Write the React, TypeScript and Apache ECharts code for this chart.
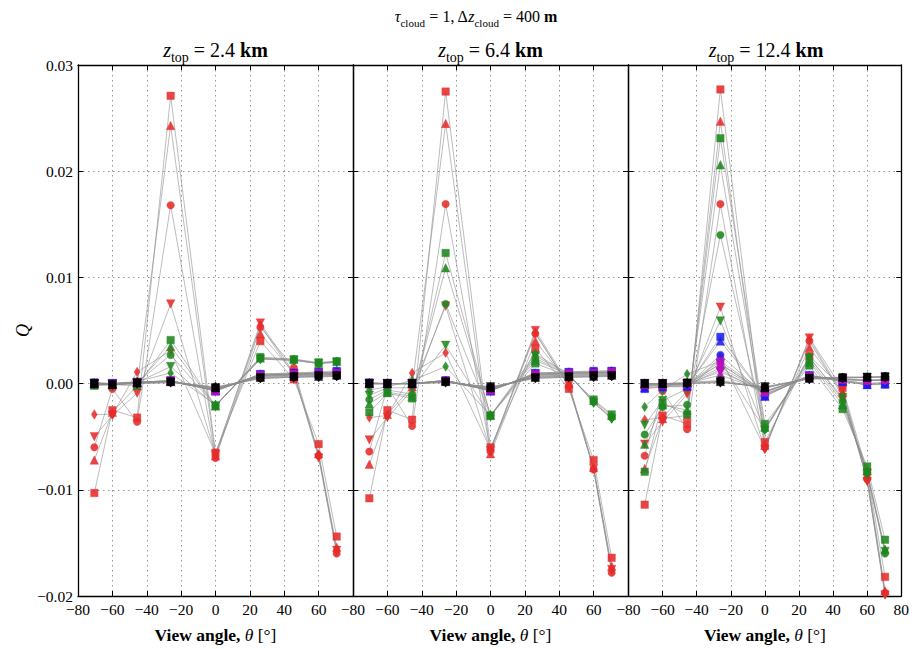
import React, { useEffect, useRef } from 'react';
import * as echarts from 'echarts';

// MISR-like view angles (degrees)
const ANGLES = [-70.5, -60, -45.6, -26.1, 0, 26.1, 45.6, 60, 70.5];
const PANEL_TITLES = ['2.4', '6.4', '12.4'];
const X_TICKS = { min: -80, max: 80, interval: 20 };
const Y_TICKS = { min: -0.02, max: 0.03, interval: 0.01 };

// rows: square, triangle-up, circle, triangle-down, diamond
// ---- z_top = 2.4 km ----
const Q24_RED = [
  [-0.0103, -0.0025, -0.0032, 0.0271, -0.0065, 0.0040, 0.0004, -0.0057, -0.0144],
  [-0.0072, -0.0027, -0.0002, 0.0243, -0.0068, 0.0047, 0.0010, -0.0066, -0.0154],
  [-0.0060, -0.0005, -0.0036, 0.0168, -0.0070, 0.0053, 0.0015, -0.0068, -0.0160],
  [-0.0050, -0.0030, -0.0009, 0.0075, -0.0067, 0.0057, 0.0010, -0.0070, -0.0157],
  [-0.0029, -0.0029, 0.0011, 0.0031, -0.0066, 0.0055, 0.0008, -0.0067, -0.0158],
];
const Q24_GREEN = [
  [-0.0002, -0.0001, -0.0002, 0.0041, -0.0021, 0.0025, 0.0023, 0.0020, 0.0021],
  [-0.0001, -0.0001, 0.0000, 0.0035, -0.0021, 0.0024, 0.0023, 0.0019, 0.0021],
  [-0.0001, -0.0001, 0.0001, 0.0027, -0.0021, 0.0024, 0.0022, 0.0019, 0.0021],
  [0.0000, 0.0000, 0.0001, 0.0016, -0.0021, 0.0023, 0.0022, 0.0019, 0.0020],
  [0.0000, 0.0000, 0.0002, 0.0010, -0.0020, 0.0023, 0.0022, 0.0019, 0.0020],
];
const Q24_BLUE = [
  [0.0001, 0.0000, 0.0001, 0.0003, -0.0007, 0.0009, 0.0010, 0.0011, 0.0012],
  [0.0001, 0.0000, 0.0001, 0.0003, -0.0007, 0.0009, 0.0010, 0.0010, 0.0011],
  [0.0000, 0.0000, 0.0001, 0.0002, -0.0006, 0.0008, 0.0009, 0.0010, 0.0011],
  [0.0000, 0.0000, 0.0001, 0.0002, -0.0006, 0.0008, 0.0009, 0.0010, 0.0010],
  [0.0000, -0.0001, 0.0001, 0.0002, -0.0006, 0.0008, 0.0009, 0.0009, 0.0010],
];
const Q24_MAGENTA = [
  [0.0000, 0.0000, 0.0001, 0.0003, -0.0007, 0.0008, 0.0009, 0.0010, 0.0010],
  [0.0000, 0.0000, 0.0001, 0.0002, -0.0006, 0.0008, 0.0009, 0.0009, 0.0010],
  [0.0000, 0.0000, 0.0001, 0.0002, -0.0006, 0.0007, 0.0008, 0.0009, 0.0009],
  [0.0000, -0.0001, 0.0001, 0.0002, -0.0005, 0.0007, 0.0008, 0.0008, 0.0009],
  [0.0000, -0.0001, 0.0001, 0.0002, -0.0005, 0.0007, 0.0008, 0.0008, 0.0009],
];
const Q24_BLACK = [
  [0.0000, -0.0001, 0.0001, 0.0002, -0.0004, 0.0006, 0.0007, 0.0008, 0.0008],
  [0.0000, -0.0001, 0.0001, 0.0002, -0.0004, 0.0006, 0.0007, 0.0007, 0.0008],
  [0.0000, -0.0001, 0.0001, 0.0002, -0.0004, 0.0005, 0.0006, 0.0007, 0.0007],
  [0.0000, -0.0001, 0.0000, 0.0001, -0.0004, 0.0005, 0.0006, 0.0007, 0.0007],
  [0.0000, -0.0001, 0.0000, 0.0001, -0.0003, 0.0005, 0.0006, 0.0006, 0.0007],
];

// ---- z_top = 6.4 km ----
const Q64_RED = [
  [-0.0108, -0.0025, -0.0034, 0.0275, -0.0060, 0.0033, -0.0005, -0.0072, -0.0164],
  [-0.0076, -0.0029, -0.0003, 0.0245, -0.0066, 0.0040, 0.0000, -0.0079, -0.0172],
  [-0.0064, -0.0003, -0.0040, 0.0169, -0.0064, 0.0047, -0.0002, -0.0081, -0.0178],
  [-0.0053, -0.0032, -0.0006, 0.0073, -0.0063, 0.0050, -0.0001, -0.0080, -0.0175],
  [-0.0032, -0.0030, 0.0010, 0.0029, -0.0062, 0.0048, -0.0003, -0.0080, -0.0176],
];
const Q64_GREEN = [
  [-0.0027, -0.0009, -0.0014, 0.0123, -0.0030, 0.0019, 0.0007, -0.0015, -0.0029],
  [-0.0019, -0.0008, -0.0012, 0.0109, -0.0030, 0.0022, 0.0008, -0.0016, -0.0030],
  [-0.0015, -0.0006, -0.0010, 0.0075, -0.0030, 0.0024, 0.0008, -0.0017, -0.0032],
  [-0.0011, -0.0004, -0.0004, 0.0036, -0.0031, 0.0026, 0.0009, -0.0018, -0.0033],
  [-0.0006, -0.0003, 0.0003, 0.0016, -0.0030, 0.0028, 0.0009, -0.0018, -0.0033],
];
const Q64_BLUE = [
  [0.0001, 0.0000, 0.0000, 0.0003, -0.0007, 0.0010, 0.0011, 0.0012, 0.0012],
  [0.0001, 0.0000, 0.0000, 0.0003, -0.0007, 0.0010, 0.0011, 0.0011, 0.0012],
  [0.0000, 0.0000, 0.0000, 0.0003, -0.0006, 0.0009, 0.0010, 0.0011, 0.0011],
  [0.0000, 0.0000, 0.0000, 0.0002, -0.0006, 0.0009, 0.0010, 0.0010, 0.0011],
  [0.0000, 0.0000, 0.0000, 0.0002, -0.0006, 0.0008, 0.0010, 0.0010, 0.0010],
];
const Q64_MAGENTA = [
  [0.0000, 0.0000, 0.0000, 0.0003, -0.0006, 0.0009, 0.0010, 0.0010, 0.0011],
  [0.0000, 0.0000, 0.0000, 0.0003, -0.0006, 0.0008, 0.0009, 0.0010, 0.0010],
  [0.0000, 0.0000, 0.0000, 0.0002, -0.0006, 0.0008, 0.0009, 0.0009, 0.0010],
  [0.0000, 0.0000, 0.0000, 0.0002, -0.0005, 0.0007, 0.0008, 0.0009, 0.0009],
  [0.0000, 0.0000, 0.0000, 0.0002, -0.0005, 0.0007, 0.0008, 0.0008, 0.0009],
];
const Q64_BLACK = [
  [0.0000, 0.0000, 0.0000, 0.0002, -0.0004, 0.0006, 0.0007, 0.0008, 0.0008],
  [0.0000, 0.0000, 0.0000, 0.0002, -0.0004, 0.0006, 0.0007, 0.0007, 0.0008],
  [0.0000, 0.0000, 0.0000, 0.0002, -0.0004, 0.0006, 0.0006, 0.0007, 0.0007],
  [0.0000, 0.0000, 0.0000, 0.0001, -0.0003, 0.0005, 0.0006, 0.0007, 0.0007],
  [0.0000, 0.0000, 0.0000, 0.0001, -0.0003, 0.0005, 0.0006, 0.0006, 0.0007],
];

// ---- z_top = 12.4 km ----
const Q124_RED = [
  [-0.0114, -0.0030, -0.0038, 0.0277, -0.0055, 0.0026, -0.0004, -0.0083, -0.0182],
  [-0.0080, -0.0033, -0.0030, 0.0247, -0.0058, 0.0034, -0.0008, -0.0086, -0.0195],
  [-0.0068, -0.0007, -0.0043, 0.0169, -0.0060, 0.0040, -0.0012, -0.0090, -0.0197],
  [-0.0057, -0.0036, -0.0010, 0.0072, -0.0062, 0.0043, -0.0005, -0.0092, -0.0199],
  [-0.0034, -0.0032, -0.0007, 0.0025, -0.0061, 0.0042, -0.0010, -0.0091, -0.0198],
];
const Q124_GREEN = [
  [-0.0083, -0.0018, -0.0029, 0.0231, -0.0038, 0.0017, -0.0024, -0.0078, -0.0147],
  [-0.0057, -0.0020, -0.0025, 0.0206, -0.0041, 0.0020, -0.0020, -0.0082, -0.0156],
  [-0.0048, -0.0022, -0.0020, 0.0140, -0.0043, 0.0022, -0.0017, -0.0084, -0.0160],
  [-0.0039, -0.0016, -0.0005, 0.0059, -0.0044, 0.0024, -0.0013, -0.0085, -0.0158],
  [-0.0022, -0.0006, 0.0009, 0.0021, -0.0043, 0.0025, -0.0015, -0.0085, -0.0157],
];
const Q124_BLUE = [
  [-0.0005, -0.0003, -0.0003, 0.0044, -0.0012, 0.0008, 0.0002, -0.0001, -0.0001],
  [-0.0004, -0.0003, -0.0002, 0.0040, -0.0012, 0.0008, 0.0002, -0.0001, 0.0000],
  [-0.0003, -0.0002, -0.0002, 0.0027, -0.0011, 0.0007, 0.0002, -0.0001, 0.0000],
  [-0.0002, -0.0002, -0.0001, 0.0019, -0.0010, 0.0007, 0.0003, 0.0000, 0.0001],
  [-0.0002, -0.0001, -0.0001, 0.0013, -0.0010, 0.0006, 0.0003, 0.0000, 0.0001],
];
const Q124_MAGENTA = [
  [-0.0001, -0.0001, 0.0000, 0.0021, -0.0008, 0.0007, 0.0004, 0.0003, 0.0004],
  [-0.0001, -0.0001, 0.0000, 0.0018, -0.0008, 0.0007, 0.0004, 0.0003, 0.0004],
  [-0.0001, -0.0001, 0.0000, 0.0015, -0.0008, 0.0006, 0.0004, 0.0003, 0.0003],
  [0.0000, 0.0000, 0.0000, 0.0011, -0.0007, 0.0006, 0.0004, 0.0003, 0.0003],
  [0.0000, 0.0000, 0.0000, 0.0008, -0.0007, 0.0006, 0.0004, 0.0003, 0.0003],
];
const Q124_BLACK = [
  [0.0000, 0.0000, 0.0001, 0.0003, -0.0004, 0.0005, 0.0006, 0.0006, 0.0007],
  [0.0000, 0.0000, 0.0001, 0.0002, -0.0004, 0.0005, 0.0006, 0.0006, 0.0007],
  [0.0000, 0.0000, 0.0000, 0.0002, -0.0004, 0.0005, 0.0006, 0.0006, 0.0006],
  [0.0000, 0.0000, 0.0000, 0.0001, -0.0003, 0.0005, 0.0005, 0.0006, 0.0006],
  [0.0000, 0.0000, 0.0000, 0.0001, -0.0003, 0.0004, 0.0005, 0.0006, 0.0006],
];

const PANEL_DATA = [
  [Q24_RED, Q24_GREEN, Q24_BLUE, Q24_MAGENTA, Q24_BLACK],
  [Q64_RED, Q64_GREEN, Q64_BLUE, Q64_MAGENTA, Q64_BLACK],
  [Q124_RED, Q124_GREEN, Q124_BLUE, Q124_MAGENTA, Q124_BLACK],
];

const COLORS = ['#e62b2b', '#1f861f', '#1d1df0', '#bb10bb', '#000000'];
const MARKERS = [
  { symbol: 'rect', size: 7.5, rotate: 0 },
  { symbol: 'triangle', size: 8.5, rotate: 0 },
  { symbol: 'circle', size: 7.5, rotate: 0 },
  { symbol: 'triangle', size: 8.5, rotate: 180 },
  { symbol: 'diamond', size: [6, 9.5], rotate: 0 },
];

const FONT = "'Liberation Serif', 'DejaVu Serif', serif";
const GRID_LEFTS = [78, 353, 628.5];
const GRID_W = 275;
const GRID_TOP = 65;
const GRID_H = 541;

const fmtX = (v: number) => (v < 0 ? '\u2212' + Math.abs(v) : String(v));
const fmtY = (v: number) => {
  const r = Math.round(v * 100) / 100;
  return (r < 0 ? '\u2212' : '') + Math.abs(r).toFixed(2);
};

function buildOption() {
  const grid: any[] = [];
  const xAxis: any[] = [];
  const yAxis: any[] = [];
  const series: any[] = [];

  const axisLine = { show: true, onZero: false, lineStyle: { color: '#000', width: 1.3 } };
  const axisTick = { show: true, inside: true, length: 5, lineStyle: { color: '#000', width: 1 } };
  const splitLine = { show: true, lineStyle: { color: '#888', type: [1.5, 3.5], width: 0.9 } };

  PANEL_TITLES.forEach((_, p) => {
    grid.push({ left: GRID_LEFTS[p], top: GRID_TOP, width: GRID_W, height: GRID_H, containLabel: false });
    xAxis.push({
      type: 'value', gridIndex: p, position: 'bottom', ...X_TICKS,
      axisLine, axisTick, splitLine,
      axisLabel: {
        formatter: fmtX, fontFamily: FONT, fontSize: 15.5, color: '#000', margin: 5,
        showMaxLabel: p === 2,
      },
      name: '{b|View angle,} {i|θ} {n|[°]}',
      nameLocation: 'middle', nameGap: 30,
      nameTextStyle: {
        fontFamily: FONT, fontSize: 17.5, color: '#000',
        rich: {
          b: { fontFamily: FONT, fontSize: 17.5, fontWeight: 'bold', color: '#000' },
          i: { fontFamily: FONT, fontSize: 17.5, fontStyle: 'italic', color: '#000' },
          n: { fontFamily: FONT, fontSize: 17.5, color: '#000' },
        },
      },
    });
    xAxis.push({
      type: 'value', gridIndex: p, position: 'top', ...X_TICKS,
      axisLine, axisTick, splitLine: { show: false }, axisLabel: { show: false },
    });
    yAxis.push({
      type: 'value', gridIndex: p, position: 'left', ...Y_TICKS,
      axisLine, axisTick, splitLine,
      axisLabel: { show: p === 0, formatter: fmtY, fontFamily: FONT, fontSize: 15.5, color: '#000', margin: 5 },
      name: p === 0 ? 'Q' : '',
      nameLocation: 'middle', nameGap: 46, nameRotate: 90,
      nameTextStyle: { fontFamily: FONT, fontSize: 18, fontStyle: 'italic', color: '#000' },
    });
    yAxis.push({
      type: 'value', gridIndex: p, position: 'right', ...Y_TICKS,
      axisLine, axisTick, splitLine: { show: false }, axisLabel: { show: false },
    });

    const xIdx = p * 2;
    const yIdx = p * 2;
    // lines first
    PANEL_DATA[p].forEach((colorRows) => {
      colorRows.forEach((row) => {
        series.push({
          type: 'line', xAxisIndex: xIdx, yAxisIndex: yIdx,
          data: ANGLES.map((a, k) => [a, row[k]]),
          showSymbol: false, symbol: 'none', silent: true, z: 2,
          lineStyle: { color: '#8c8c8c', width: 0.9, opacity: 0.65 },
        });
      });
    });
    // markers on top
    PANEL_DATA[p].forEach((colorRows, c) => {
      colorRows.forEach((row, m) => {
        const mk = MARKERS[m];
        series.push({
          type: 'scatter', xAxisIndex: xIdx, yAxisIndex: yIdx,
          data: ANGLES.map((a, k) => [a, row[k]]),
          symbol: mk.symbol, symbolSize: mk.size, symbolRotate: mk.rotate,
          silent: true, z: 3,
          itemStyle: { color: COLORS[c], opacity: 0.88, borderColor: COLORS[c], borderWidth: 0.4 },
        });
      });
    });
  });

  const subRich = (size: number, lh: number, sub: number, sublh: number) => ({
    n: { fontFamily: FONT, fontSize: size, lineHeight: lh, color: '#000' },
    i: { fontFamily: FONT, fontSize: size, lineHeight: lh, fontStyle: 'italic', color: '#000' },
    b: { fontFamily: FONT, fontSize: size, lineHeight: lh, fontWeight: 'bold', color: '#000' },
    s: { fontFamily: FONT, fontSize: sub, lineHeight: sublh, verticalAlign: 'bottom', color: '#000' },
  });

  const graphic: any[] = [
    {
      type: 'text', x: 476, y: 16, silent: true,
      style: {
        text: '{i|τ}{s|cloud}{n| = 1, Δ}{i|z}{s|cloud}{n| = 400 }{b|m}',
        rich: subRich(16, 24, 11, 11),
        align: 'center', verticalAlign: 'middle',
      },
    },
  ];
  PANEL_TITLES.forEach((t, p) => {
    graphic.push({
      type: 'text', x: GRID_LEFTS[p] + GRID_W / 2, y: 50, silent: true,
      style: {
        text: `{i|z}{s|top}{n| = ${t} }{b|km}`,
        rich: subRich(20, 28, 14, 14),
        align: 'center', verticalAlign: 'middle',
      },
    });
  });

  return {
    animation: false,
    backgroundColor: '#fff',
    grid, xAxis, yAxis, series, graphic,
  };
}

export default function App() {
  const ref = useRef<HTMLDivElement>(null);
  useEffect(() => {
    const chart = echarts.init(ref.current!, null, { renderer: 'svg' });
    chart.setOption(buildOption() as any);
    return () => chart.dispose();
  }, []);
  return <div ref={ref} style={{ position: 'fixed', left: 0, top: 0, width: 912, height: 649 }} />;
}
